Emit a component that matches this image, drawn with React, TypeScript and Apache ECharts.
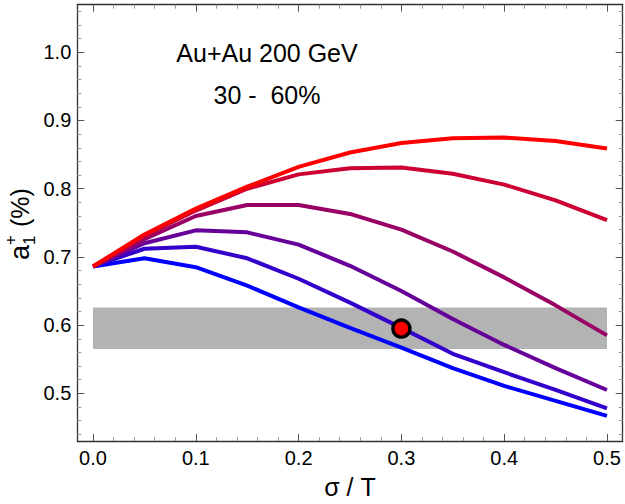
import React, { useEffect, useRef } from "react";
import * as echarts from "echarts";

const sigmaT = [0, 0.05, 0.1, 0.15, 0.2, 0.25, 0.3, 0.35, 0.4, 0.45, 0.5];
const curveBlue = [0.686, 0.698, 0.685, 0.658, 0.626, 0.596, 0.567, 0.537, 0.511, 0.489, 0.467];
const curveIndigo = [0.686, 0.712, 0.715, 0.698, 0.668, 0.633, 0.596, 0.558, 0.531, 0.505, 0.478];
const curvePurple = [0.686, 0.720, 0.739, 0.736, 0.718, 0.687, 0.650, 0.609, 0.571, 0.537, 0.505];
const curveMagenta = [0.686, 0.726, 0.760, 0.776, 0.776, 0.763, 0.740, 0.708, 0.670, 0.629, 0.585];
const curveCrimson = [0.686, 0.731, 0.768, 0.800, 0.821, 0.830, 0.831, 0.822, 0.806, 0.783, 0.754];
const curveRed = [0.686, 0.733, 0.771, 0.803, 0.832, 0.853, 0.867, 0.874, 0.875, 0.870, 0.859];
const curves = [curveBlue, curveIndigo, curvePurple, curveMagenta, curveCrimson, curveRed];
const curveColors = ["#0000ff", "#3300cc", "#660099", "#990066", "#cc0033", "#ff0000"];

const bandX = [0, 0.5];
const bandY = [0.565, 0.626];
const pointX = [0.3];
const pointY = [0.595];

const xMajor = [0, 0.1, 0.2, 0.3, 0.4, 0.5];
const xMinor = [0.02, 0.04, 0.06, 0.08, 0.12, 0.14, 0.16, 0.18, 0.22, 0.24, 0.26, 0.28, 0.32, 0.34, 0.36, 0.38, 0.42, 0.44, 0.46, 0.48];
const yMajor = [0.5, 0.6, 0.7, 0.8, 0.9, 1.0];
const yMinor = [0.44, 0.46, 0.48, 0.52, 0.54, 0.56, 0.58, 0.62, 0.64, 0.66, 0.68, 0.72, 0.74, 0.76, 0.78, 0.82, 0.84, 0.86, 0.88, 0.92, 0.94, 0.96, 0.98, 1.02, 1.04, 1.06];

const X_MIN = -0.0153;
const X_MAX = 0.5153;
const Y_MIN = 0.4302;
const Y_MAX = 1.0697;

const FONT = "'Liberation Sans', Arial, sans-serif";
const FRAME = "#333333";

function makeAxis(kind: "x" | "y", position: string, major: boolean, labels: boolean, values: number[], extra: any = {}) {
  return {
    type: "value",
    position,
    min: kind === "x" ? X_MIN : Y_MIN,
    max: kind === "x" ? X_MAX : Y_MAX,
    axisLine: { show: major, onZero: false, lineStyle: { color: FRAME, width: 1.3 } },
    axisTick: {
      show: true,
      inside: true,
      length: major ? 7 : 4,
      customValues: values,
      lineStyle: { color: major ? "#555555" : "#999999", width: 1 },
    },
    axisLabel: labels
      ? {
          show: true,
          customValues: values,
          formatter: (v: number) => v.toFixed(1),
          color: "#000000",
          fontSize: 20,
          fontFamily: FONT,
          margin: kind === "x" ? 7 : 6,
        }
      : { show: false },
    splitLine: { show: false },
    ...extra,
  };
}

export default function App() {
  const ref = useRef<HTMLDivElement>(null);
  useEffect(() => {
    if (!ref.current) return;
    const chart = echarts.init(ref.current, null, { renderer: "svg" });
    const lineSeries = curves.map((c, i) => ({
      type: "line",
      xAxisIndex: 0,
      yAxisIndex: 0,
      data: sigmaT.map((x, j) => [x, c[j]]),
      showSymbol: false,
      symbol: "none",
      lineStyle: { color: curveColors[i], width: 4 },
      z: 3,
      silent: true,
    }));
    chart.setOption({
      animation: false,
      grid: { left: 77.3, right: 2.3, top: 4.7, bottom: 62.3, containLabel: false },
      xAxis: [
        makeAxis("x", "bottom", true, true, xMajor, {
          name: "σ / T",
          nameLocation: "middle",
          nameGap: 33,
          nameTextStyle: { fontSize: 25, fontFamily: FONT, color: "#000000" },
        }),
        makeAxis("x", "bottom", false, false, xMinor),
        makeAxis("x", "top", true, false, xMajor),
        makeAxis("x", "top", false, false, xMinor),
      ],
      yAxis: [
        makeAxis("y", "left", true, true, yMajor),
        makeAxis("y", "left", false, false, yMinor),
        makeAxis("y", "right", true, false, yMajor),
        makeAxis("y", "right", false, false, yMinor),
      ],
      series: [
        {
          type: "line",
          xAxisIndex: 0,
          yAxisIndex: 0,
          data: [[bandX[0], bandY[0]]],
          symbol: "none",
          lineStyle: { width: 0, opacity: 0 },
          silent: true,
          z: 1,
          markArea: {
            silent: true,
            itemStyle: { color: "#b3b3b3", opacity: 1 },
            data: [[{ coord: [bandX[0], bandY[0]] }, { coord: [bandX[1], bandY[1]] }]],
          },
        },
        ...lineSeries,
        {
          type: "scatter",
          xAxisIndex: 0,
          yAxisIndex: 0,
          data: pointX.map((x, i) => [x, pointY[i]]),
          symbol: "circle",
          symbolSize: 17,
          itemStyle: { color: "#ff0000", borderColor: "#000000", borderWidth: 3.4, opacity: 1 },
          z: 5,
          silent: true,
        },
      ],
      graphic: [
        {
          type: "text",
          x: 267,
          y: 53,
          style: {
            text: "Au+Au 200 GeV",
            font: `25px ${FONT}`,
            fill: "#000000",
            align: "center",
            verticalAlign: "middle",
            textAlign: "center",
            textVerticalAlign: "middle",
          },
        },
        {
          type: "text",
          x: 267,
          y: 95,
          style: {
            text: "30 -  60%",
            font: `25px ${FONT}`,
            fill: "#000000",
            align: "center",
            verticalAlign: "middle",
            textAlign: "center",
            textVerticalAlign: "middle",
          },
        },
        {
          type: "group",
          x: 20,
          y: 223,
          rotation: Math.PI / 2,
          children: [
            {
              type: "text",
              x: -37,
              y: 0,
              style: { text: "a", font: `27px ${FONT}`, fill: "#000000", align: "left", verticalAlign: "middle", textAlign: "left", textVerticalAlign: "middle" },
            },
            {
              type: "text",
              x: -22,
              y: -10,
              style: { text: "+", font: `17px ${FONT}`, fill: "#000000", align: "left", verticalAlign: "middle", textAlign: "left", textVerticalAlign: "middle" },
            },
            {
              type: "text",
              x: -22,
              y: 9,
              style: { text: "1", font: `17px ${FONT}`, fill: "#000000", align: "left", verticalAlign: "middle", textAlign: "left", textVerticalAlign: "middle" },
            },
            {
              type: "text",
              x: -4,
              y: 0,
              style: { text: "(%)", font: `25px ${FONT}`, fill: "#000000", align: "left", verticalAlign: "middle", textAlign: "left", textVerticalAlign: "middle" },
            },
          ],
        },
      ],
    });
    return () => chart.dispose();
  }, []);
  return <div ref={ref} style={{ position: "absolute", left: 0, top: 0, width: 625, height: 504 }} />;
}
